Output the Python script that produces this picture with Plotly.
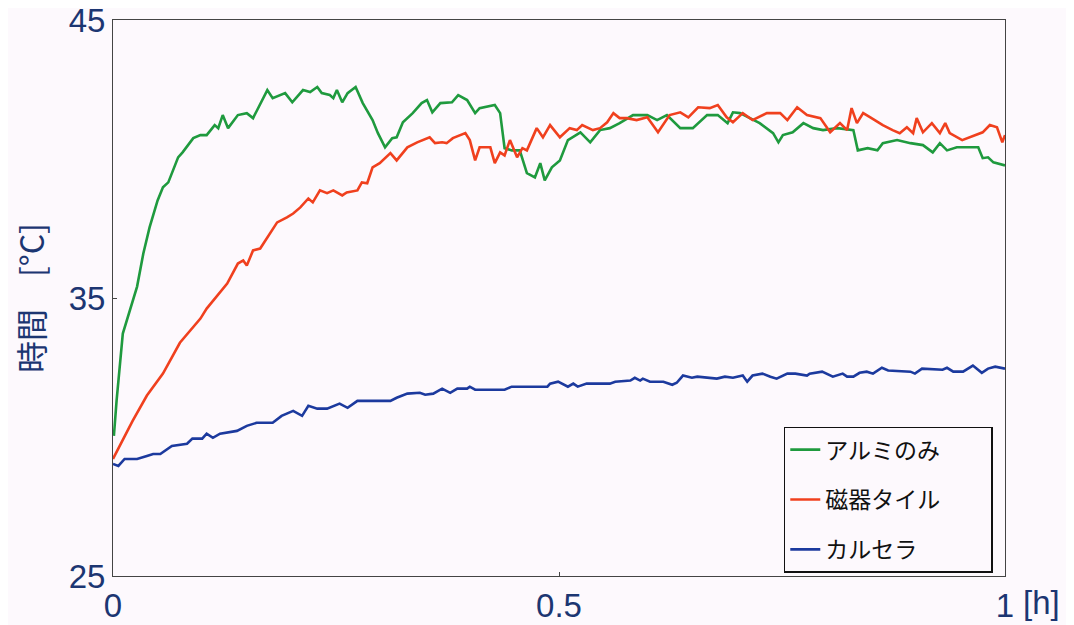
import plotly.graph_objects as go

# ---- data (time [h], temperature [°C]) ----
green_t = [0.001, 0.004, 0.011, 0.019, 0.027, 0.034, 0.041, 0.050, 0.056, 0.062, 0.073, 0.078, 0.090, 0.098,
           0.105, 0.114, 0.118, 0.123, 0.129, 0.140, 0.150, 0.157, 0.173, 0.179, 0.193, 0.201, 0.213, 0.221,
           0.229, 0.234, 0.243, 0.247, 0.251, 0.257, 0.263, 0.272, 0.280, 0.291, 0.297, 0.305, 0.313, 0.318,
           0.325, 0.336, 0.346, 0.352, 0.358, 0.367, 0.380, 0.387, 0.397, 0.406, 0.411, 0.428, 0.434, 0.439,
           0.447, 0.456, 0.464, 0.473, 0.479, 0.484, 0.492, 0.501, 0.510, 0.524, 0.535, 0.546, 0.557, 0.568,
           0.583, 0.599, 0.610, 0.621, 0.636, 0.650, 0.666, 0.678, 0.689, 0.695, 0.703, 0.714, 0.725, 0.740,
           0.746, 0.751, 0.762, 0.774, 0.785, 0.796, 0.812, 0.830, 0.835, 0.846, 0.857, 0.863, 0.879, 0.894,
           0.908, 0.919, 0.927, 0.935, 0.946, 0.970, 0.975, 0.981, 0.987, 1.000]
green_v = [30.04, 31.30, 33.72, 34.55, 35.41, 36.60, 37.54, 38.51, 38.98, 39.16, 40.06, 40.24, 40.75, 40.86,
           40.86, 41.22, 41.11, 41.58, 41.11, 41.58, 41.65, 41.47, 42.48, 42.19, 42.37, 42.04, 42.48, 42.41,
           42.59, 42.37, 42.30, 42.19, 42.48, 42.04, 42.37, 42.59, 42.01, 41.40, 40.93, 40.42, 40.75, 40.78,
           41.32, 41.65, 42.01, 42.12, 41.68, 42.01, 42.04, 42.30, 42.12, 41.65, 41.83, 41.94, 41.65, 40.39,
           40.31, 40.31, 39.49, 39.34, 39.85, 39.23, 39.70, 39.95, 40.68, 40.96, 40.60, 41.04, 41.11, 41.29,
           41.58, 41.58, 41.40, 41.58, 41.11, 41.11, 41.58, 41.58, 41.29, 41.68, 41.65, 41.47, 41.29, 40.93,
           40.60, 40.86, 40.96, 41.29, 41.11, 41.04, 41.11, 41.04, 40.31, 40.39, 40.31, 40.57, 40.68, 40.57,
           40.50, 40.24, 40.57, 40.31, 40.42, 40.42, 40.03, 40.06, 39.88, 39.77]

red_t = [0.000, 0.022, 0.038, 0.056, 0.075, 0.098, 0.105, 0.128, 0.140, 0.146, 0.150, 0.157, 0.165, 0.184,
         0.195, 0.202, 0.210, 0.219, 0.224, 0.232, 0.240, 0.247, 0.257, 0.262, 0.274, 0.279, 0.285, 0.291,
         0.299, 0.311, 0.318, 0.330, 0.341, 0.355, 0.361, 0.369, 0.374, 0.381, 0.395, 0.400, 0.406, 0.411,
         0.423, 0.428, 0.434, 0.439, 0.445, 0.453, 0.459, 0.464, 0.475, 0.482, 0.490, 0.501, 0.512, 0.520,
         0.526, 0.538, 0.546, 0.554, 0.561, 0.568, 0.576, 0.587, 0.599, 0.611, 0.624, 0.636, 0.645, 0.656,
         0.669, 0.678, 0.688, 0.695, 0.706, 0.717, 0.733, 0.748, 0.756, 0.767, 0.778, 0.793, 0.804, 0.815,
         0.823, 0.828, 0.834, 0.841, 0.849, 0.863, 0.874, 0.882, 0.890, 0.897, 0.901, 0.908, 0.918, 0.927,
         0.933, 0.938, 0.952, 0.961, 0.975, 0.983, 0.991, 0.997, 1.000]
red_v = [29.21, 30.58, 31.49, 32.28, 33.39, 34.26, 34.62, 35.52, 36.24, 36.35, 36.17, 36.71, 36.78, 37.72,
         37.90, 38.04, 38.26, 38.58, 38.44, 38.87, 38.77, 38.87, 38.69, 38.80, 38.87, 39.16, 39.13, 39.70,
         39.85, 40.21, 39.95, 40.42, 40.60, 40.78, 40.57, 40.60, 40.57, 40.75, 40.93, 40.68, 39.95, 40.42,
         40.42, 39.85, 40.24, 40.13, 40.68, 40.06, 40.39, 40.31, 41.11, 40.78, 41.22, 40.78, 41.11, 41.04,
         41.22, 41.04, 41.11, 41.32, 41.65, 41.47, 41.47, 41.40, 41.50, 40.96, 41.58, 41.68, 41.50, 41.86,
         41.83, 41.94, 41.50, 41.32, 41.65, 41.40, 41.65, 41.65, 41.40, 41.86, 41.58, 41.47, 40.96, 41.29,
         41.04, 41.83, 41.29, 41.65, 41.50, 41.22, 41.04, 40.93, 41.14, 40.93, 41.47, 40.96, 41.29, 40.93,
         41.29, 40.93, 40.68, 40.78, 40.96, 41.22, 41.14, 40.60, 40.86]

blue_t = [0.000, 0.006, 0.013, 0.027, 0.038, 0.045, 0.053, 0.066, 0.083, 0.089, 0.100, 0.105, 0.112, 0.120,
          0.139, 0.150, 0.161, 0.179, 0.189, 0.202, 0.212, 0.219, 0.229, 0.240, 0.254, 0.263, 0.274, 0.311,
          0.318, 0.330, 0.344, 0.350, 0.359, 0.369, 0.378, 0.386, 0.397, 0.400, 0.406, 0.439, 0.447, 0.487,
          0.490, 0.499, 0.510, 0.516, 0.521, 0.531, 0.557, 0.563, 0.580, 0.585, 0.591, 0.594, 0.602, 0.617,
          0.627, 0.632, 0.639, 0.649, 0.655, 0.677, 0.686, 0.695, 0.706, 0.711, 0.717, 0.728, 0.737, 0.744,
          0.756, 0.765, 0.778, 0.781, 0.795, 0.807, 0.818, 0.823, 0.830, 0.837, 0.845, 0.852, 0.862, 0.869,
          0.894, 0.899, 0.907, 0.930, 0.935, 0.942, 0.953, 0.964, 0.974, 0.981, 0.989, 1.000]
blue_v = [29.03, 28.96, 29.21, 29.21, 29.32, 29.39, 29.39, 29.68, 29.76, 29.94, 29.94, 30.12, 29.97, 30.12,
          30.22, 30.40, 30.51, 30.51, 30.76, 30.94, 30.76, 31.12, 31.02, 31.02, 31.20, 31.05, 31.30, 31.30,
          31.41, 31.56, 31.59, 31.52, 31.56, 31.74, 31.59, 31.74, 31.74, 31.81, 31.70, 31.70, 31.81, 31.81,
          31.92, 31.99, 31.81, 31.92, 31.81, 31.92, 31.92, 31.99, 32.03, 32.13, 32.03, 32.10, 31.99, 31.99,
          31.88, 31.95, 32.21, 32.13, 32.17, 32.10, 32.17, 32.13, 32.21, 31.99, 32.21, 32.28, 32.17, 32.10,
          32.28, 32.28, 32.21, 32.28, 32.35, 32.17, 32.28, 32.17, 32.17, 32.31, 32.35, 32.28, 32.49, 32.39,
          32.35, 32.28, 32.46, 32.42, 32.49, 32.35, 32.35, 32.57, 32.31, 32.46, 32.53, 32.46]

series_names = ["アルミのみ", "磁器タイル", "カルセラ"]
x_tick_vals = [0, 0.5, 1]
x_tick_text = ["0", "0.5", "1"]
y_tick_vals = [25, 35, 45]
x_unit = "[h]"
y_title = "時間　[°C]"

# ---- styles ----
colors = ["#1f9a3e", "#f0401e", "#1c3a9e"]
navy = "#1c3672"
bg = "#fdf9fd"
num_font = "Liberation Sans, Arial, sans-serif"
jp_font = "Noto Sans CJK JP, sans-serif"
legend_pad = "\u3000\u3000"

fig = go.Figure()
for i, (t, v) in enumerate([(green_t, green_v), (red_t, red_v), (blue_t, blue_v)]):
    fig.add_trace(go.Scatter(x=t, y=v, mode="lines", name=series_names[i] + legend_pad,
                             legendgroup=f"g{i}",
                             line=dict(color=colors[i], width=2.6, shape="linear")))

fig.update_layout(
    width=1074, height=625,
    margin=dict(l=105, r=77, t=12, b=57, autoexpand=False),
    paper_bgcolor=bg, plot_bgcolor=bg,
    showlegend=True,
    legend=dict(x=0.752, y=0.006, xanchor="left", yanchor="bottom",
                bgcolor=bg, bordercolor="#111111", borderwidth=1.5,
                font=dict(family=jp_font, size=23, color="#111111"),
                tracegroupgap=17,
                traceorder="grouped"),
    xaxis=dict(range=[0, 1], tickvals=x_tick_vals, ticktext=x_tick_text,
               showgrid=False, zeroline=False, showline=True, mirror=True,
               linecolor="#444444", linewidth=1, ticks="inside", ticklen=4,
               tickcolor="#444444", automargin=False, ticklabeloverflow="allow",
               tickfont=dict(family=num_font, size=33, color=navy)),
    yaxis=dict(range=[25, 45], tickvals=y_tick_vals,
               showgrid=False, zeroline=False, showline=True, mirror=True,
               linecolor="#444444", linewidth=1, ticks="inside", ticklen=4,
               tickcolor="#444444", automargin=False, ticklabeloverflow="allow",
               tickfont=dict(family=num_font, size=33, color=navy)),
)

fig.add_annotation(text=x_unit, xref="paper", yref="paper", x=1, y=0,
                   xanchor="left", yanchor="top", xshift=16, yshift=-6,
                   showarrow=False, font=dict(family=num_font, size=33, color=navy))
fig.add_annotation(text=y_title, xref="paper", yref="paper", x=0, y=0.5,
                   xanchor="center", yanchor="middle", xshift=-83, textangle=-90,
                   showarrow=False, font=dict(family=jp_font, size=32, color=navy))

fig.write_html("out.html")
